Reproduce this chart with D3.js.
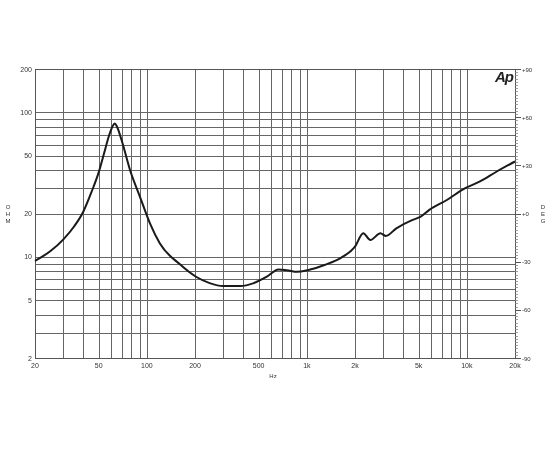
<!DOCTYPE html>
<html lang="en">
<head>
  <meta charset="UTF-8">
  <title>Impedance Curve</title>
  <script src="https://d3js.org/d3.v7.min.js"></script>
  <style>
    body {
      margin: 0;
      padding: 0;
      background: #fff;
    }
    #chart {
      width: 550px;
      height: 450px;
      will-change: transform; /* own layer, greyscale text smoothing */
    }
    text {
      font-family: "Liberation Sans", Arial, sans-serif;
      fill: #333;
    }
    .grid line {
      stroke: #666;
      stroke-width: 1;
    }
  </style>
</head>
<body>
<div id="chart"></div>
<script>
  // impedance curve (Hz, Ohm)
  const freqs = [20, 25, 30, 35, 40, 45, 50, 54, 58, 61, 63, 65, 69.5, 78.5, 90.6, 104.6,
                 120.7, 161, 203, 247, 299, 383, 466, 562, 666, 750, 872, 1010, 1288, 1643, 2000,
                 2252, 2496, 2884, 3119, 3626, 4547, 5150, 5830, 7500, 9470, 12000, 15300, 20000];
  const ohms  = [9.4, 11.0, 13.2, 16.2, 20.5, 28, 38.5, 52, 69, 80, 84, 80, 64.5, 40, 26.1, 17.1,
                 12.4, 8.9, 7.3, 6.6, 6.3, 6.3, 6.6, 7.3, 8.2, 8.1, 7.9, 8.1, 8.8, 9.9, 11.8,
                 14.6, 13.1, 14.6, 14.0, 15.8, 18.0, 19.0, 21.2, 24.8, 29.4, 33.2, 38.9, 45.8];

  // grid and tick values
  const xGrid = [30, 40, 50, 60, 70, 80, 90, 100, 200, 300, 400, 500, 600, 700, 800, 900,
                 1000, 2000, 3000, 4000, 5000, 6000, 7000, 8000, 9000, 10000];
  const xTicks = [20, 50, 100, 200, 500, 1000, 2000, 5000, 10000, 20000];
  const xTickLabels = ["20", "50", "100", "200", "500", "1k", "2k", "5k", "10k", "20k"];
  const yGrid = [3, 4, 5, 6, 7, 8, 9, 10, 20, 30, 40, 50, 60, 70, 80, 90, 100];
  const yTicks = [2, 5, 10, 20, 50, 100, 200];
  const degTicks = [-90, -60, -30, 0, 30, 60, 90];
  const degLabels = ["-90", "-60", "-30", "+0", "+30", "+60", "+90"];

  const width = 550, height = 450;
  const pLeft = 35, pRight = 515, pTop = 69, pBottom = 358;

  const svg = d3.select("#chart").append("svg")
    .attr("width", width)
    .attr("height", height);

  const x = d3.scaleLog().domain([20, 20000]).range([pLeft, pRight]);
  const y = d3.scaleLog().domain([2, 200]).range([pBottom, pTop]);
  const yDeg = d3.scaleLinear().domain([-90, 90]).range([pBottom, pTop]);

  // grid
  const grid = svg.append("g").attr("class", "grid");
  grid.selectAll(".vx").data(xGrid).enter().append("line")
    .attr("x1", d => Math.round(x(d)) + 0.5).attr("x2", d => Math.round(x(d)) + 0.5)
    .attr("y1", pTop).attr("y2", pBottom);
  grid.selectAll(".hy").data(yGrid).enter().append("line")
    .attr("y1", d => Math.round(y(d)) + 0.5).attr("y2", d => Math.round(y(d)) + 0.5)
    .attr("x1", pLeft).attr("x2", pRight);

  // frame
  svg.append("rect")
    .attr("x", pLeft + 0.5).attr("y", pTop + 0.5)
    .attr("width", pRight - pLeft).attr("height", pBottom - pTop)
    .attr("fill", "none").attr("stroke", "#555").attr("stroke-width", 1);

  // bottom labels
  svg.selectAll(".xl").data(xTicks).enter().append("text")
    .attr("x", d => x(d))
    .attr("y", pBottom + 10)
    .attr("text-anchor", "middle")
    .style("font-size", "7px")
    .text((d, i) => xTickLabels[i]);

  svg.append("text")
    .attr("x", 273).attr("y", 378)
    .attr("text-anchor", "middle")
    .style("font-size", "6px")
    .text("Hz");

  // left labels
  svg.selectAll(".yl").data(yTicks).enter().append("text")
    .attr("x", pLeft - 3)
    .attr("y", d => y(d) + 2.5)
    .attr("text-anchor", "end")
    .style("font-size", "7px")
    .text(d => d);

  // right axis ticks (degrees)
  const minor = d3.range(-90, 91, 2);
  svg.selectAll(".mt").data(minor).enter().append("line")
    .attr("x1", pRight).attr("x2", pRight + 3)
    .attr("y1", d => Math.round(yDeg(d)) + 0.5).attr("y2", d => Math.round(yDeg(d)) + 0.5)
    .attr("stroke", "#888").attr("stroke-width", 0.8);
  svg.selectAll(".Mt").data(degTicks).enter().append("line")
    .attr("x1", pRight).attr("x2", pRight + 6)
    .attr("y1", d => Math.round(yDeg(d)) + 0.5).attr("y2", d => Math.round(yDeg(d)) + 0.5)
    .attr("stroke", "#555").attr("stroke-width", 1);
  svg.selectAll(".dl").data(degTicks).enter().append("text")
    .attr("x", pRight + 7)
    .attr("y", d => yDeg(d) + 2.5)
    .style("font-size", "6px")
    .text((d, i) => degLabels[i]);

  // stacked unit titles
  ["O", "H", "M"].forEach((c, i) => {
    svg.append("text").attr("x", 8).attr("y", 209 + i * 7)
      .attr("text-anchor", "middle").style("font-size", "6px").text(c);
  });
  ["D", "E", "G"].forEach((c, i) => {
    svg.append("text").attr("x", 543).attr("y", 209 + i * 7)
      .attr("text-anchor", "middle").style("font-size", "6px").text(c);
  });

  // Ap logo
  svg.append("text")
    .attr("x", 513).attr("y", 82)
    .attr("text-anchor", "end")
    .style("font-size", "15px")
    .style("font-weight", "bold")
    .style("font-style", "italic")
    .style("fill", "#222")
    .style("letter-spacing", "-1px")
    .text("Ap");

  // impedance curve
  const pts = freqs.map((f, i) => [f, ohms[i]]);
  const line = d3.line()
    .x(d => x(d[0]))
    .y(d => y(d[1]))
    .curve(d3.curveMonotoneX);

  svg.append("path")
    .datum(pts)
    .attr("d", line)
    .attr("fill", "none")
    .attr("stroke", "#1a1a1a")
    .attr("stroke-width", 2);
</script>
</body>
</html>
